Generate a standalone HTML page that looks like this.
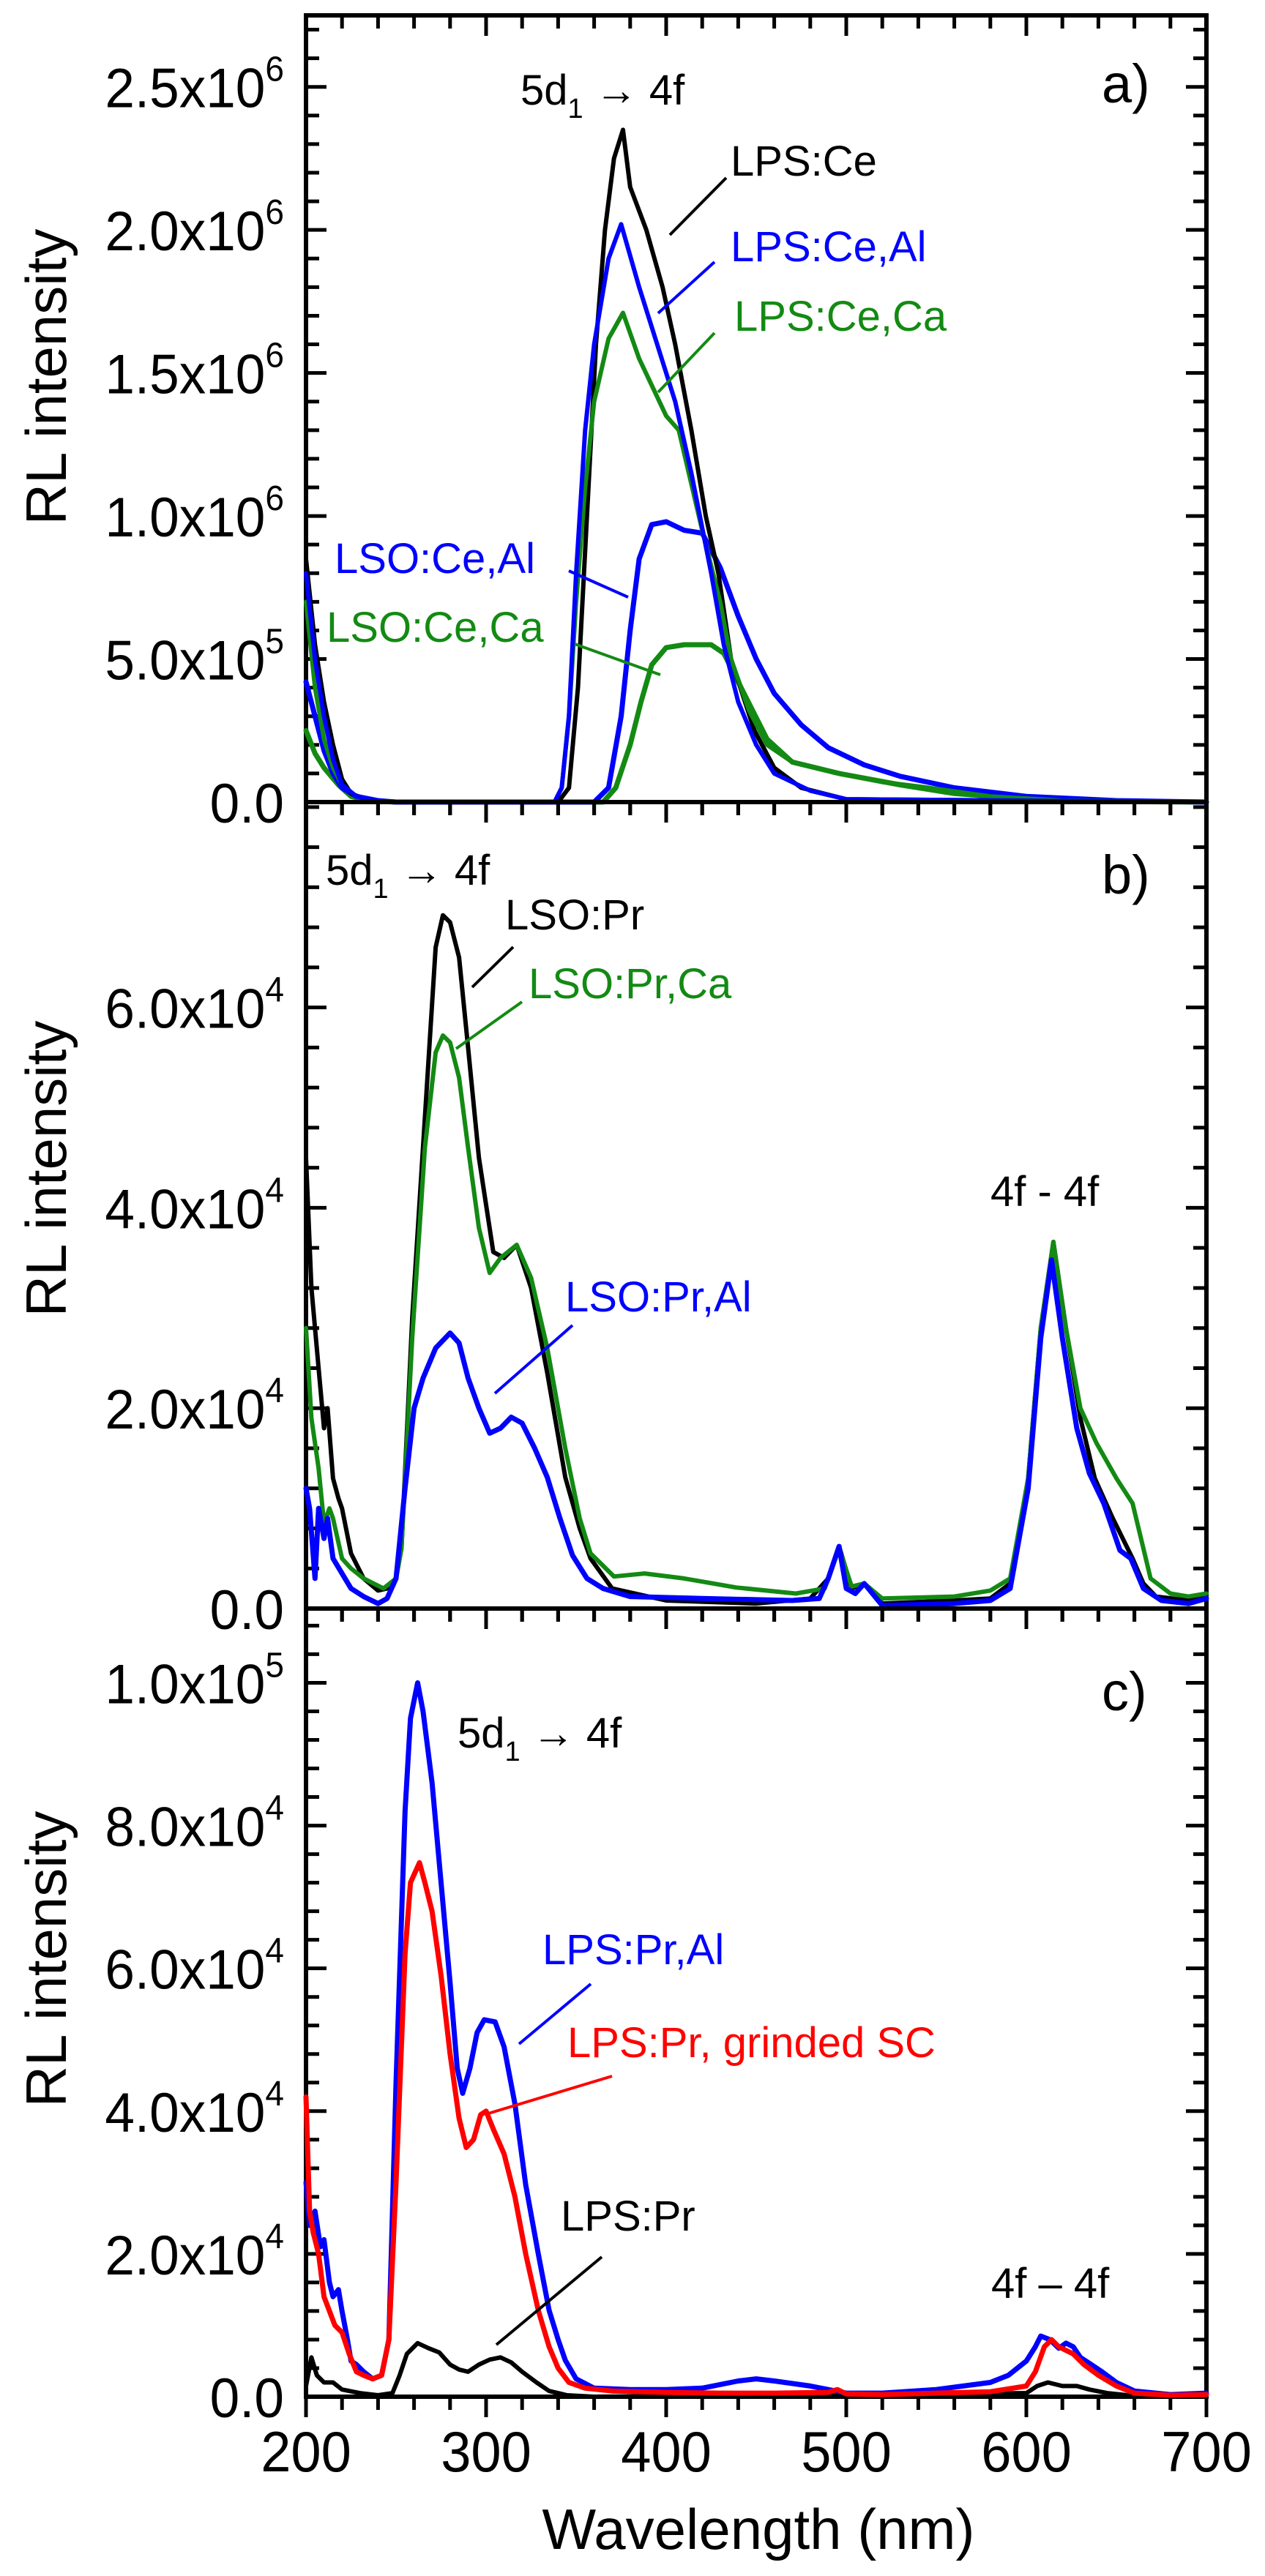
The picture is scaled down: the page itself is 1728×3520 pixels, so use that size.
<!DOCTYPE html>
<html><head><meta charset="utf-8">
<style>
html,body{margin:0;padding:0;background:#fff;}
svg{display:block;font-family:"Liberation Sans",Arial,sans-serif;}
</style></head>
<body>
<svg id="chart" xmlns="http://www.w3.org/2000/svg" width="1728" height="3520" viewBox="0 0 1728 3520">
<rect width="1728" height="3520" fill="#fff"/>
<g id="plots"></g>
</svg>
<script>
// ---- data: panel a (units 1e6) ----
const aLpsCeX = [200,205,210,215,220,225,235,250,340,346,351,356,361,366,371,376,380,389,398,405,414,422,429,436,449,460,475,500,700];
const aLpsCeY = [0.85,0.55,0.35,0.2,0.08,0.03,0.005,0,0,0.05,0.4,1.0,1.6,2.0,2.25,2.35,2.15,2.0,1.8,1.6,1.3,1.0,0.8,0.5,0.25,0.12,0.05,0.01,0];
const aLpsCeAlX = [200,205,210,215,220,228,240,250,338,342,346,350,355,360,368,375,385,395,405,414,425,432,440,450,460,480,500,700];
const aLpsCeAlY = [0.8,0.5,0.3,0.15,0.06,0.02,0.005,0,0,0.05,0.3,0.8,1.3,1.6,1.9,2.02,1.8,1.6,1.4,1.15,0.8,0.55,0.35,0.2,0.1,0.04,0.01,0];
const aLpsCeCaX = [200,205,210,215,220,228,240,250,338,342,346,350,355,360,368,376,385,400,407,420,430,436,446,456,470,496,520,546,580,620,700];
const aLpsCeCaY = [0.7,0.4,0.22,0.12,0.06,0.02,0.005,0,0,0.05,0.3,0.7,1.1,1.4,1.62,1.71,1.55,1.35,1.3,0.95,0.7,0.5,0.32,0.2,0.14,0.1,0.07,0.05,0.02,0.005,0];
const aLsoCeAlX = [200,205,210,215,220,228,240,250,360,368,375,380,385,392,400,410,420,430,440,450,460,475,490,510,530,560,600,650,700];
const aLsoCeAlY = [0.42,0.3,0.18,0.1,0.05,0.02,0.005,0,0,0.05,0.3,0.6,0.85,0.97,0.98,0.95,0.94,0.82,0.65,0.5,0.38,0.27,0.19,0.13,0.09,0.05,0.02,0.005,0];
const aLsoCeCaX = [200,205,210,218,225,235,250,365,372,380,386,392,400,410,425,432,440,448,456,470,496,530,560,600,650,700];
const aLsoCeCaY = [0.25,0.17,0.12,0.06,0.02,0.005,0,0,0.05,0.2,0.35,0.48,0.54,0.55,0.55,0.52,0.42,0.32,0.22,0.14,0.1,0.06,0.03,0.01,0.002,0];
// ---- data: panel b (units 1e4) ----
const bLsoPrX = [200,203,207,210,212,215,218,220,225,232,240,245,250,253,259,266,272,276,280,285,290,296,304,310,317,325,334,344,352,358,370,400,450,480,490,496,503,510,520,560,580,591,601,608,615,622,630,638,648,659,665,672,690,700];
const bLsoPrY = [4.5,3.2,2.4,1.8,2.0,1.3,1.1,1.0,0.55,0.3,0.18,0.2,0.3,0.6,2.9,4.9,6.6,6.92,6.85,6.5,5.6,4.5,3.56,3.5,3.63,3.2,2.35,1.31,0.8,0.5,0.2,0.08,0.05,0.1,0.3,0.62,0.2,0.25,0.05,0.08,0.1,0.25,1.3,2.8,3.66,2.8,1.9,1.3,0.9,0.5,0.25,0.12,0.08,0.12];
const bLsoPrCaX = [200,203,207,210,213,215,220,225,232,243,250,253,259,266,272,276,280,285,290,296,302,308,317,325,334,344,352,358,371,388,410,439,472,488,496,503,510,520,560,580,591,601,608,615,622,630,639,650,659,665,669,680,690,700];
const bLsoPrCaY = [2.8,1.9,1.4,0.85,1.0,0.9,0.5,0.4,0.3,0.2,0.3,0.6,2.7,4.6,5.55,5.72,5.65,5.3,4.6,3.8,3.35,3.5,3.63,3.3,2.6,1.6,0.9,0.55,0.32,0.35,0.3,0.21,0.15,0.2,0.6,0.22,0.25,0.1,0.12,0.18,0.3,1.3,2.8,3.66,2.8,2.0,1.65,1.3,1.05,0.6,0.3,0.15,0.12,0.15];
const bLsoPrAlX = [200,202,205,207,210,212,215,220,225,232,240,245,250,255,260,265,272,280,285,290,296,302,308,314,320,327,334,341,348,356,365,380,420,470,485,490,496,500,505,510,520,560,580,591,601,608,614,620,628,635,643,652,658,665,675,690,700];
const bLsoPrAlY = [1.2,1.0,0.3,1.0,0.7,0.9,0.5,0.35,0.2,0.12,0.05,0.1,0.3,1.2,2.0,2.3,2.6,2.75,2.65,2.3,2.0,1.75,1.8,1.91,1.85,1.6,1.31,0.9,0.53,0.3,0.2,0.12,0.1,0.08,0.1,0.3,0.62,0.2,0.15,0.25,0.03,0.05,0.08,0.2,1.2,2.7,3.48,2.7,1.8,1.35,1.05,0.58,0.5,0.2,0.08,0.05,0.1];
// ---- data: panel c (units 1e4) ----
const cLpsPrAlX = [200,202,205,208,210,213,215,218,220,223,225,228,232,237,242,246,250,255,258,262,265,270,275,280,284,287,291,295,299,305,310,316,322,329,335,340,344,350,360,380,400,420,440,450,460,480,500,520,550,580,590,600,605,608,613,618,622,626,630,636,642,650,660,680,700];
const cLpsPrAlY = [3.0,2.4,2.6,2.1,2.2,1.6,1.4,1.5,1.2,0.8,0.5,0.45,0.35,0.25,0.3,0.8,4.4,8.2,9.5,10.0,9.6,8.6,7.2,5.8,4.6,4.25,4.6,5.1,5.28,5.25,4.9,4.1,2.97,2.0,1.21,0.8,0.51,0.25,0.12,0.1,0.1,0.12,0.22,0.25,0.22,0.15,0.05,0.05,0.1,0.2,0.3,0.5,0.7,0.85,0.8,0.68,0.75,0.7,0.55,0.45,0.35,0.2,0.08,0.03,0.05];
const cLpsPrRedX = [200,202,204,207,210,213,216,220,224,228,232,237,242,246,250,255,258,263,266,270,275,280,285,289,293,297,300,304,310,316,322,329,335,340,346,355,370,400,430,460,490,495,500,520,550,580,600,605,610,614,618,622,626,632,640,650,660,680,700];
const cLpsPrRedY = [4.2,2.6,2.3,2.0,1.4,1.2,1.0,0.9,0.6,0.35,0.3,0.25,0.3,0.8,3.0,6.2,7.2,7.48,7.2,6.8,5.9,4.8,3.9,3.49,3.6,3.95,4.0,3.75,3.4,2.8,2.0,1.21,0.7,0.4,0.2,0.12,0.08,0.06,0.05,0.05,0.06,0.1,0.04,0.03,0.05,0.07,0.15,0.35,0.7,0.8,0.7,0.65,0.6,0.45,0.3,0.15,0.05,0.02,0.03];
const cLpsPrX = [200,203,206,210,215,220,230,240,248,252,256,262,268,274,280,285,290,296,302,308,314,320,328,335,345,360,600,606,612,620,628,635,645,660,700];
const cLpsPrY = [0.15,0.55,0.3,0.2,0.2,0.1,0.05,0.02,0.05,0.3,0.6,0.75,0.68,0.62,0.45,0.38,0.35,0.45,0.52,0.55,0.48,0.35,0.2,0.08,0.02,0,0.05,0.15,0.2,0.15,0.15,0.1,0.05,0.01,0];
// ---- tick label arrays ----
const xTickVals = [200,300,400,500,600,700];
const aTickVals = [0,0.5,1.0,1.5,2.0,2.5];
const aTickLabels = ["0.0","5.0x10","1.0x10","1.5x10","2.0x10","2.5x10"];
const aTickExp = ["","5","6","6","6","6"];
const bTickVals = [0,2,4,6];
const bTickLabels = ["0.0","2.0x10","4.0x10","6.0x10"];
const bTickExp = ["","4","4","4"];
const cTickVals = [0,2,4,6,8,10];
const cTickLabels = ["0.0","2.0x10","4.0x10","6.0x10","8.0x10","1.0x10"];
const cTickExp = ["","4","4","4","4","5"];

const NS = "http://www.w3.org/2000/svg";
const root = document.getElementById("plots");
const X0 = 418, X1 = 1648, XMIN = 200, XMAX = 700;
function xs(v){ return X0 + (v - XMIN) / (XMAX - XMIN) * (X1 - X0); }
function mk(tag, attrs, parent){
  const e = document.createElementNS(NS, tag);
  for (const k in attrs) e.setAttribute(k, attrs[k]);
  (parent || root).appendChild(e);
  return e;
}
function tx(parent, x, y, size, sx, anchor, color){
  return mk("text", {x: 0, y: 0, transform: "translate(" + x + "," + y + ") scale(" + sx + ",1)", "text-anchor": anchor, "font-size": size, fill: color}, parent);
}
function panel(name, top, bottom, ymax, minorStep, tickVals, tickLabels, tickExp, label, labelY){
  const g = mk("g", {});
  
  
  const ys = v => bottom - v / ymax * (bottom - top);
  for (let w = 200; w <= 700; w += 20){
    const major = (w % 100 === 0);
    const len = major ? 28 : 18;
    const t1 = mk("line", {x1: xs(w), x2: xs(w), y1: top, y2: top + len, stroke: "#000", "stroke-width": 5}, g);
    
    
    const t2 = mk("line", {x1: xs(w), x2: xs(w), y1: bottom, y2: bottom + len, stroke: "#000", "stroke-width": 5}, g);
    
    
  }
  const nMinor = Math.round(ymax / minorStep);
  for (let i = 0; i <= nMinor; i++){
    const v = i * minorStep;
    const y = ys(v);
    if (y < top + 2) continue;
    const major = tickVals.some(t => Math.abs(t - v) < 1e-6);
    const len = major ? 28 : 18;
    const l1 = mk("line", {x1: X0, x2: X0 + len, y1: y, y2: y, stroke: "#000", "stroke-width": 5}, g);
    
    
    const l2 = mk("line", {x1: X1, x2: X1 - len, y1: y, y2: y, stroke: "#000", "stroke-width": 5}, g);
    
    
  }
  tickVals.forEach((v, i) => {
    const t = tx(g, 388, ys(v) + 28, 76, 0.96, "end", "#000");
    
    
    t.appendChild(document.createTextNode(tickLabels[i]));
    if (tickExp[i]){
      const s = mk("tspan", {dy: -36, "font-size": 48}, t);
      s.textContent = tickExp[i];
    }
  });
  const fr = mk("rect", {x: X0, y: top, width: X1 - X0, height: bottom - top, fill: "none", stroke: "#000", "stroke-width": 6}, g);
  
  
  const yl = mk("text", {x: 0, y: 0, transform: "translate(90," + labelY + ") rotate(-90)", "text-anchor": "middle", "font-size": 78, fill: "#000"}, g);
  
  
  yl.textContent = "RL intensity";
  const pl = tx(g, 1505, label[1], 74, 1, "start", "#000");
  
  
  pl.textContent = label[0];
  return {g, ys};
}
function series(p, xsArr, ysArr, color, w, name){
  const pts = xsArr.map((x, i) => xs(x).toFixed(1) + "," + p.ys(ysArr[i]).toFixed(1)).join(" ");
  const e = mk("polyline", {points: pts, fill: "none", stroke: color, "stroke-width": w, "stroke-linejoin": "round", "stroke-linecap": "round"}, p.g);
  
  
}
function note(p, txt, x, y, color, name, sub){
  const t = tx(p.g, x, y, 58, 1, "start", color);
  
  
  if (sub){
    t.appendChild(document.createTextNode("5d"));
    const s = mk("tspan", {dy: 18, "font-size": 38}, t); s.textContent = "1";
    const r = mk("tspan", {dy: -18, "font-size": 58}, t); r.textContent = " \u2192 4f";
  } else t.textContent = txt;
}
function leader(p, x1, y1, x2, y2, color, name){
  const l = mk("line", {x1, y1, x2, y2, stroke: color, "stroke-width": 4}, p.g);
  
  
}
const BL = "#0000ff", GR = "#138a13", RD = "#ff0000";
// Panel a
const pa = panel("panel-a", 21, 1096, 2.75, 0.1, aTickVals, aTickLabels, aTickExp, ["a)", 140], 515);
series(pa, aLsoCeCaX, aLsoCeCaY, GR, 7, "lso-ce-ca-line");
series(pa, aLsoCeAlX, aLsoCeAlY, BL, 7, "lso-ce-al-line");
series(pa, aLpsCeX, aLpsCeY, "#000", 6, "lps-ce-line");
series(pa, aLpsCeCaX, aLpsCeCaY, GR, 6, "lps-ce-ca-line");
series(pa, aLpsCeAlX, aLpsCeAlY, BL, 6, "lps-ce-al-line");
note(pa, "", 711, 143, "#000", "transition-label-a", true);
note(pa, "LPS:Ce", 998, 240, "#000", "label-lps-ce"); leader(pa, 915, 321, 992, 243, "#000", "leader-lps-ce");
note(pa, "LPS:Ce,Al", 998, 357, BL, "label-lps-ce-al"); leader(pa, 899, 428, 976, 358, BL, "leader-lps-ce-al");
note(pa, "LPS:Ce,Ca", 1003, 452, GR, "label-lps-ce-ca"); leader(pa, 899, 536, 976, 455, GR, "leader-lps-ce-ca");
note(pa, "LSO:Ce,Al", 457, 783, BL, "label-lso-ce-al"); leader(pa, 777, 780, 858, 816, BL, "leader-lso-ce-al");
note(pa, "LSO:Ce,Ca", 446, 877, GR, "label-lso-ce-ca"); leader(pa, 785, 880, 902, 922, GR, "leader-lso-ce-ca");
// Panel b
const pb = panel("panel-b", 1096, 2198, 8.05, 0.4, bTickVals, bTickLabels, bTickExp, ["b)", 1221], 1597);
series(pb, bLsoPrX, bLsoPrY, "#000", 6, "lso-pr-line");
series(pb, bLsoPrCaX, bLsoPrCaY, GR, 6, "lso-pr-ca-line");
series(pb, bLsoPrAlX, bLsoPrAlY, BL, 7, "lso-pr-al-line");
note(pb, "", 445, 1209, "#000", "transition-label-b", true);
note(pb, "LSO:Pr", 690, 1270, "#000", "label-lso-pr"); leader(pb, 645, 1349, 701, 1294, "#000", "leader-lso-pr");
note(pb, "LSO:Pr,Ca", 722, 1364, GR, "label-lso-pr-ca"); leader(pb, 623, 1433, 713, 1369, GR, "leader-lso-pr-ca");
note(pb, "LSO:Pr,Al", 772, 1792, BL, "label-lso-pr-al"); leader(pb, 676, 1904, 782, 1811, BL, "leader-lso-pr-al");
note(pb, "4f - 4f", 1353, 1648, "#000", "label-4f-4f-b");
// Panel c
const pc = panel("panel-c", 2198, 3275, 11.04, 0.4, cTickVals, cTickLabels, cTickExp, ["c)", 2337], 2677);
series(pc, cLpsPrX, cLpsPrY, "#000", 6, "lps-pr-line");
series(pc, cLpsPrAlX, cLpsPrAlY, BL, 7, "lps-pr-al-line");
series(pc, cLpsPrRedX, cLpsPrRedY, RD, 7, "lps-pr-grinded-line");
note(pc, "", 625, 2388, "#000", "transition-label-c", true);
note(pc, "LPS:Pr,Al", 741, 2684, BL, "label-lps-pr-al"); leader(pc, 709, 2793, 807, 2711, BL, "leader-lps-pr-al");
note(pc, "LPS:Pr, grinded SC", 775, 2811, RD, "label-lps-pr-grinded"); leader(pc, 667, 2888, 836, 2837, RD, "leader-lps-pr-grinded");
note(pc, "LPS:Pr", 766, 3048, "#000", "label-lps-pr"); leader(pc, 678, 3204, 822, 3084, "#000", "leader-lps-pr");
note(pc, "4f \u2013 4f", 1354, 3140, "#000", "label-4f-4f-c");
xTickVals.forEach(v => {
  const t = tx(pc.g, xs(v), 3377, 78, 0.95, "middle", "#000");
  
  
  t.textContent = v;
});
const xl = tx(pc.g, 1036, 3483, 78, 1, "middle", "#000");


xl.textContent = "Wavelength (nm)";
</script>
</body></html>
